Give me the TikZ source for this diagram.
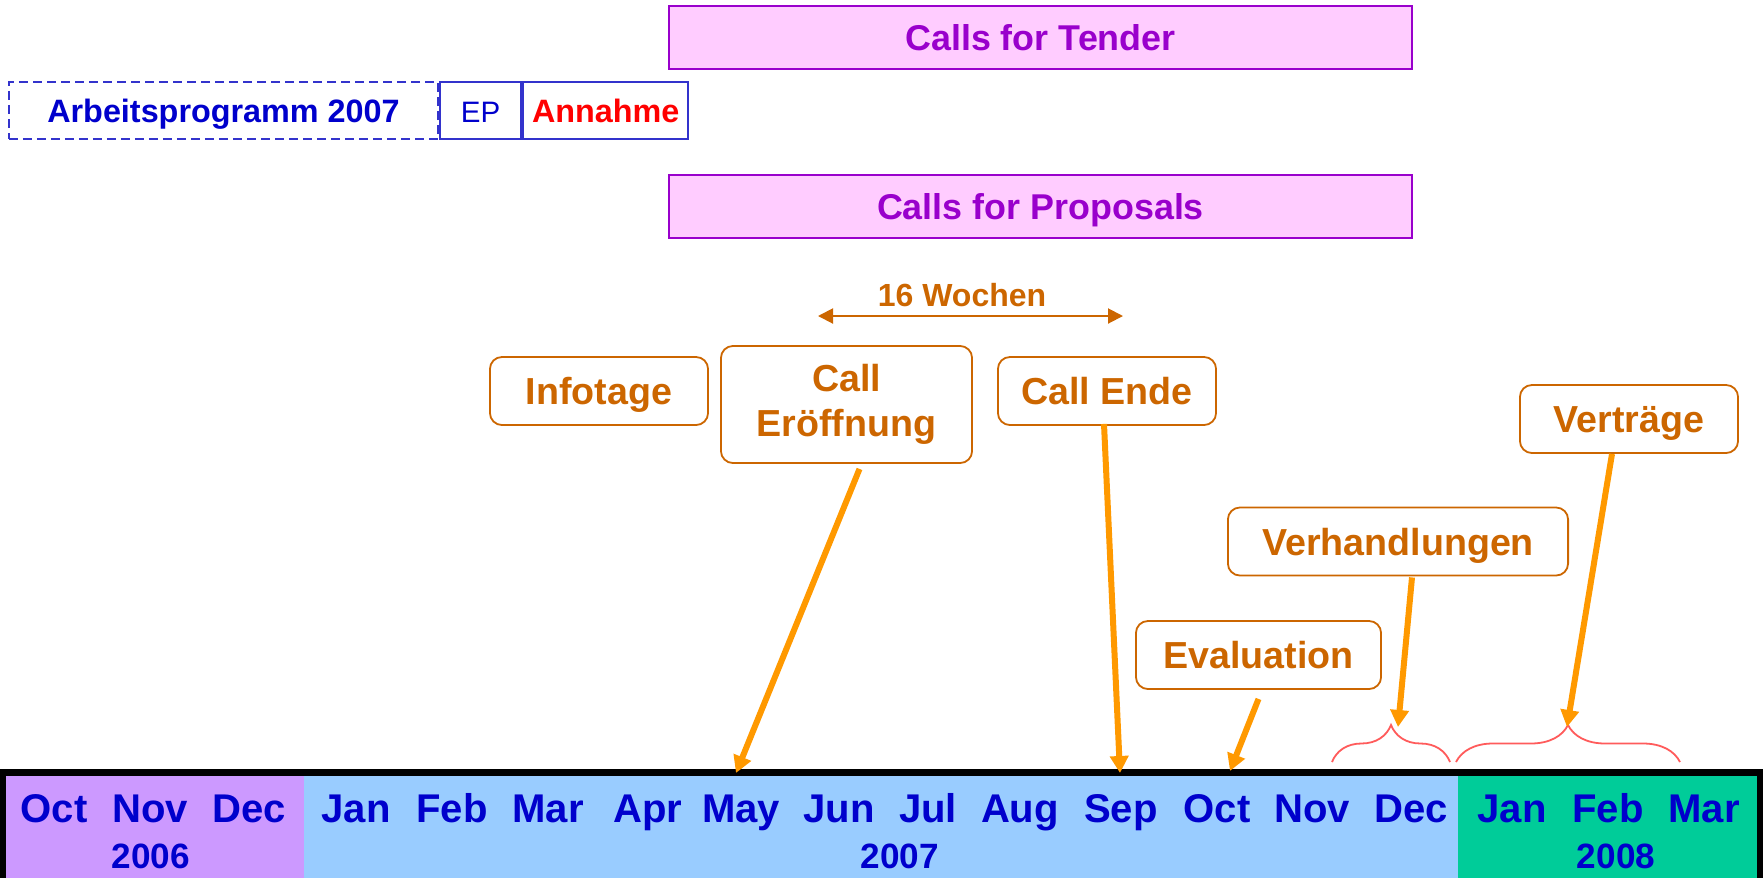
\documentclass[tikz,border=0pt]{standalone}
\usepackage{fontspec}
\setmainfont{Liberation Sans}
\usetikzlibrary{arrows.meta, decorations.pathreplacing}

\definecolor{callpurple}{HTML}{9900CC}
\definecolor{callpink}{HTML}{FFCCFF}
\definecolor{wpblue}{HTML}{3333CC}
\definecolor{textblue}{HTML}{0000CC}
\definecolor{notebrown}{HTML}{CC6600}
\definecolor{arroworange}{HTML}{FF9900}
\definecolor{bracered}{HTML}{FF5B5B}
\definecolor{band06}{HTML}{CC99FF}
\definecolor{band07}{HTML}{99CCFF}
\definecolor{band08}{HTML}{00CC99}

\tikzset{
    callbox/.style = {draw = callpurple, fill = callpink, line width = 0.02cm,
        text = callpurple, font = \fontsize{10.2pt}{12pt}\selectfont\bfseries,
        minimum width = 7.43cm, minimum height = 0.63cm, inner sep = 0pt,
        text height = 7.3pt, text depth = 0pt},
    wpbox/.style = {draw = wpblue, line width = 0.02cm, text = textblue,
        font = \fontsize{9.2pt}{11pt}\selectfont, minimum height = 0.57cm,
        inner sep = 0pt, text height = 6.6pt, text depth = 0pt},
    stepnote/.style = {draw = notebrown, line width = 0.018cm, rounded corners = 0.12cm,
        text = notebrown, font = \fontsize{10.7pt}{12.8pt}\selectfont\bfseries,
        align = center, minimum height = 0.68cm, inner sep = 0pt},
    oneline/.style = {text height = 7.7pt, text depth = 0pt},
    marker/.style = {->, line width = 0.06cm, draw = arroworange},
    weeks/.style = {<->, > = {Triangle[length = 0.15cm, width = 0.15cm]},
        line width = 0.02cm, draw = notebrown},
    span/.style = {draw = bracered, line width = 0.018cm, decorate,
        decoration = {brace, amplitude = 0.37cm}},
    monthlabel/.style = {anchor = base, text = textblue,
        font = \fontsize{11.4pt}{13pt}\selectfont\bfseries},
    yearlabel/.style = {anchor = base, text = textblue,
        font = \fontsize{10pt}{12pt}\selectfont\bfseries}
}

\begin{document}
\begin{tikzpicture}[x = 0.01cm, y = -0.01cm, > = {Triangle[length = 0.17cm, width = 0.18cm]}]

        % Fix the page to the size of the slide.
        \useasboundingbox (0, 0) rectangle (1763, 878);

        % Black frame of the time bar, and the three years inside it.
        \fill[black] (0, 769) rectangle (1763, 878);
        \fill[band06] (6, 776) rectangle (304, 878);
        \fill[band07] (304, 776) rectangle (1458, 878);
        \fill[band08] (1458, 776) rectangle (1757, 878);

        % Month names along the bar.
        \foreach[count = \i] \mon/\xpos in {Oct/54, Nov/150, Dec/249,
            Jan/356, Feb/452, Mar/548, Apr/648, May/741, Jun/839, Jul/928,
            Aug/1020, Sep/1121, Oct/1217, Nov/1312, Dec/1411,
            Jan/1512, Feb/1608, Mar/1704}{
            \node[monthlabel] (month\i) at (\xpos, 822) {\mon};
        }

        % Year names under the months.
        \node[yearlabel] (year06) at (151, 868) {2006};
        \node[yearlabel] (year07) at (900, 868) {2007};
        \node[yearlabel] (year08) at (1616, 868) {2008};

        % The two kinds of calls.
        \node[callbox] (tender) at (1040.5, 37.5) {Calls for Tender};
        \node[callbox] (proposals) at (1040.5, 206.5) {Calls for Proposals};

        % Work programme, Parliament and adoption.
        \node[wpbox, dashed, dash pattern = on 0.09cm off 0.05cm, minimum width = 4.29cm]
            (wp) at (223.5, 110.5) {\bfseries Arbeitsprogramm 2007};
        \node[wpbox, minimum width = 0.81cm, anchor = west,
            font = \fontsize{8.4pt}{10pt}\selectfont] (ep) at (wp.east) {EP};
        \node[wpbox, minimum width = 1.65cm, anchor = west, text = red]
            (annahme) at (ep.east) {\bfseries Annahme};

        % Steps of the call.
        \node[stepnote, oneline, minimum width = 2.18cm] (infotage) at (599, 391) {Infotage};
        \node[stepnote, minimum width = 2.51cm, minimum height = 1.17cm]
            (eroeffnung) at (846.5, 404.5) {Call\\Eröffnung};
        \node[stepnote, oneline, minimum width = 2.18cm] (ende) at (1107, 391) {Call Ende};
        \node[stepnote, oneline, minimum width = 2.45cm] (evaluation) at (1258.5, 655) {Evaluation};
        \node[stepnote, oneline, minimum width = 3.40cm] (verhandlungen) at (1398, 541.5) {Verhandlungen};
        \node[stepnote, oneline, minimum width = 2.18cm] (vertraege) at (1629, 419) {Verträge};

        % Length of the call.
        \coordinate (wbeg) at (818, 316);
        \coordinate (wend) at (1123, 316);
        \draw[weeks] (wbeg) to (wend);
        \node[anchor = base, text = notebrown, font = \fontsize{9.1pt}{11pt}\selectfont\bfseries]
            (wochen) at (962, 306) {16 Wochen};

        % Braces over the months of negotiation and of contracts.
        \coordinate (neg0) at (1332, 762);
        \coordinate (neg1) at (1450, 762);
        \coordinate (con0) at (1456, 762);
        \coordinate (con1) at (1680, 762);
        \draw[span] (neg0) -- (neg1);
        \draw[span] (con0) -- (con1);

        % Where the arrows meet the bar.
        \coordinate (atmay) at (736, 773);
        \coordinate (atsep) at (1120, 773);
        \coordinate (atoct) at (1230, 771);
        \coordinate (atneg) at (1398, 727);
        \coordinate (atcon) at (1567, 727);

        % Arrows from each step down to its month.
        \draw[marker] ([shift = {(13, 5)}]eroeffnung.south) to (atmay);
        \draw[marker] ([shift = {(-3, -2)}]ende.south) to (atsep);
        \draw[marker] ([shift = {(0, 9)}]evaluation.south) to (atoct);
        \draw[marker] ([shift = {(14, 1)}]verhandlungen.south) to (atneg);
        \draw[marker] ([shift = {(-17, 0)}]vertraege.south) to (atcon);
    \end{tikzpicture}
\end{document}
